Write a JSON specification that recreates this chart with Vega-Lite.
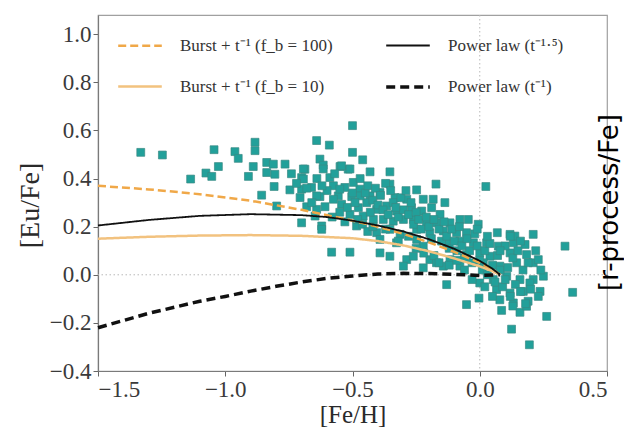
{
  "$schema": "https://vega.github.io/schema/vega-lite/v6.json",
  "width": 509,
  "height": 356,
  "autosize": {"type": "none"},
  "padding": {"left": 98, "top": 15, "right": 17, "bottom": 63},
  "background": "#ffffff",
  "config": {
    "view": {"stroke": "#a0a0a0", "strokeWidth": 1.2},
    "font": "Liberation Serif",
    "axis": {
      "labelFont": "Liberation Serif",
      "labelFontSize": 23,
      "labelColor": "#3a3a3a",
      "titleFont": "Liberation Serif",
      "titleFontSize": 25,
      "titleFontWeight": "normal",
      "titleColor": "#2a2a2a",
      "tickColor": "#666666",
      "tickSize": 5,
      "domainColor": "#7a7a7a",
      "domainWidth": 1.2,
      "grid": false,
      "labelPadding": 2
    },
    "legend": {
      "orient": "none",
      "legendX": 18,
      "legendY": 7,
      "columns": 2,
      "columnPadding": 46,
      "rowPadding": 9,
      "symbolType": "stroke",
      "symbolSize": 1900,
      "symbolStrokeWidth": 2.5,
      "labelFont": "Liberation Serif",
      "labelFontSize": 17,
      "labelColor": "#333333",
      "labelOffset": 16,
      "labelLimit": 400,
      "titlePadding": 0
    }
  },
  "datasets": {
    "stars": [
      {"feh": -0.50, "eufe": 0.62}, {"feh": -0.641, "eufe": 0.558}, {"feh": -0.591, "eufe": 0.539}, {"feh": -0.50, "eufe": 0.509},
      {"feh": -0.46, "eufe": 0.478}, {"feh": -0.765, "eufe": 0.46}, {"feh": -0.628, "eufe": 0.481}, {"feh": -0.615, "eufe": 0.456},
      {"feh": -0.687, "eufe": 0.439}, {"feh": -0.549, "eufe": 0.45}, {"feh": -0.517, "eufe": 0.439}, {"feh": -0.431, "eufe": 0.428},
      {"feh": -0.353, "eufe": 0.428}, {"feh": -0.70, "eufe": 0.404}, {"feh": -0.589, "eufe": 0.404}, {"feh": -0.172, "eufe": 0.377},
      {"feh": 0.024, "eufe": 0.367}, {"feh": -0.746, "eufe": 0.353}, {"feh": -0.661, "eufe": 0.363}, {"feh": -0.575, "eufe": 0.37},
      {"feh": -0.53, "eufe": 0.363}, {"feh": -0.471, "eufe": 0.356}, {"feh": -0.353, "eufe": 0.377}, {"feh": -0.248, "eufe": 0.353},
      {"feh": -0.706, "eufe": 0.321}, {"feh": -0.628, "eufe": 0.325}, {"feh": -0.556, "eufe": 0.328}, {"feh": -0.503, "eufe": 0.325},
      {"feh": -0.431, "eufe": 0.328}, {"feh": -0.392, "eufe": 0.342}, {"feh": -0.333, "eufe": 0.321}, {"feh": -0.287, "eufe": 0.314},
      {"feh": -0.222, "eufe": 0.314}, {"feh": -0.183, "eufe": 0.314}, {"feh": -0.137, "eufe": 0.30}, {"feh": -0.68, "eufe": 0.283},
      {"feh": -0.608, "eufe": 0.283}, {"feh": -0.543, "eufe": 0.293}, {"feh": -0.477, "eufe": 0.279}, {"feh": -0.444, "eufe": 0.30},
      {"feh": -0.405, "eufe": 0.272}, {"feh": -0.366, "eufe": 0.286}, {"feh": -0.327, "eufe": 0.265}, {"feh": -0.268, "eufe": 0.279},
      {"feh": -0.228, "eufe": 0.265}, {"feh": -0.189, "eufe": 0.279}, {"feh": -0.156, "eufe": 0.251}, {"feh": -0.647, "eufe": 0.244},
      {"feh": -0.51, "eufe": 0.251}, {"feh": -0.458, "eufe": 0.244}, {"feh": -0.418, "eufe": 0.23}, {"feh": -0.379, "eufe": 0.23},
      {"feh": -0.34, "eufe": 0.223}, {"feh": -0.30, "eufe": 0.23}, {"feh": -0.261, "eufe": 0.23}, {"feh": -0.209, "eufe": 0.216},
      {"feh": -0.17, "eufe": 0.216}, {"feh": -0.117, "eufe": 0.216}, {"feh": -0.078, "eufe": 0.23}, {"feh": -0.045, "eufe": 0.23},
      {"feh": -0.006, "eufe": 0.21}, {"feh": -0.70, "eufe": 0.216}, {"feh": -0.621, "eufe": 0.203}, {"feh": -0.621, "eufe": 0.189},
      {"feh": -0.484, "eufe": 0.203}, {"feh": -0.405, "eufe": 0.175}, {"feh": -0.353, "eufe": 0.189}, {"feh": -0.313, "eufe": 0.168},
      {"feh": -0.248, "eufe": 0.189}, {"feh": -0.196, "eufe": 0.175}, {"feh": -0.143, "eufe": 0.182}, {"feh": -0.091, "eufe": 0.175},
      {"feh": -0.052, "eufe": 0.175}, {"feh": 0.069, "eufe": 0.175}, {"feh": 0.119, "eufe": 0.168}, {"feh": 0.21, "eufe": 0.168},
      {"feh": -0.392, "eufe": 0.147}, {"feh": -0.327, "eufe": 0.133}, {"feh": -0.248, "eufe": 0.147}, {"feh": -0.222, "eufe": 0.119},
      {"feh": -0.13, "eufe": 0.133}, {"feh": -0.078, "eufe": 0.14}, {"feh": -0.025, "eufe": 0.133}, {"feh": 0.027, "eufe": 0.133},
      {"feh": 0.073, "eufe": 0.119}, {"feh": 0.132, "eufe": 0.133}, {"feh": 0.178, "eufe": 0.126}, {"feh": -0.582, "eufe": 0.094},
      {"feh": -0.51, "eufe": 0.094}, {"feh": -0.392, "eufe": 0.091}, {"feh": -0.353, "eufe": 0.077}, {"feh": -0.287, "eufe": 0.063},
      {"feh": -0.261, "eufe": 0.077}, {"feh": -0.196, "eufe": 0.063}, {"feh": -0.17, "eufe": 0.05}, {"feh": -0.117, "eufe": 0.063},
      {"feh": -0.052, "eufe": 0.084}, {"feh": 0.0, "eufe": 0.091}, {"feh": 0.04, "eufe": 0.077}, {"feh": 0.119, "eufe": 0.091},
      {"feh": 0.184, "eufe": 0.084}, {"feh": -0.30, "eufe": 0.036}, {"feh": -0.222, "eufe": 0.029}, {"feh": -0.143, "eufe": 0.036},
      {"feh": -0.078, "eufe": 0.036}, {"feh": 0.014, "eufe": 0.05}, {"feh": 0.079, "eufe": 0.036}, {"feh": 0.145, "eufe": 0.05},
      {"feh": 0.21, "eufe": 0.05}, {"feh": -0.13, "eufe": -0.041}, {"feh": 0.0, "eufe": -0.034}, {"feh": 0.053, "eufe": -0.02},
      {"feh": 0.106, "eufe": -0.006}, {"feh": 0.158, "eufe": -0.02}, {"feh": 0.21, "eufe": -0.02}, {"feh": 0.066, "eufe": -0.062},
      {"feh": 0.119, "eufe": -0.076}, {"feh": 0.171, "eufe": -0.069}, {"feh": 0.079, "eufe": -0.104}, {"feh": 0.132, "eufe": -0.117},
      {"feh": 0.19, "eufe": -0.11}, {"feh": -0.052, "eufe": -0.124}, {"feh": -0.003, "eufe": -0.097}, {"feh": 0.086, "eufe": -0.148},
      {"feh": 0.158, "eufe": -0.156}, {"feh": 0.125, "eufe": -0.226}, {"feh": 0.195, "eufe": -0.291},
      {"feh": -1.332, "eufe": 0.509}, {"feh": -1.247, "eufe": 0.498}, {"feh": -1.044, "eufe": 0.52}, {"feh": -0.962, "eufe": 0.512},
      {"feh": -0.949, "eufe": 0.484}, {"feh": -0.883, "eufe": 0.551}, {"feh": -0.883, "eufe": 0.516}, {"feh": -1.027, "eufe": 0.45},
      {"feh": -1.076, "eufe": 0.423}, {"feh": -1.053, "eufe": 0.409}, {"feh": -1.136, "eufe": 0.398}, {"feh": -0.909, "eufe": 0.409},
      {"feh": -0.89, "eufe": 0.45}, {"feh": -0.837, "eufe": 0.467}, {"feh": -0.811, "eufe": 0.46}, {"feh": -0.837, "eufe": 0.425},
      {"feh": -0.805, "eufe": 0.418}, {"feh": -0.808, "eufe": 0.367}, {"feh": -0.857, "eufe": 0.331}, {"feh": -0.798, "eufe": 0.286},
      {"feh": -0.693, "eufe": 0.44}, {"feh": -0.693, "eufe": 0.398}, {"feh": -0.70, "eufe": 0.356}, {"feh": -0.615, "eufe": 0.44},
      {"feh": -0.543, "eufe": 0.453}, {"feh": -0.51, "eufe": 0.44}, {"feh": -0.641, "eufe": 0.328}, {"feh": -0.641, "eufe": 0.272},
      {"feh": -0.575, "eufe": 0.314}, {"feh": -0.55, "eufe": 0.356}, {"feh": -0.497, "eufe": 0.384}, {"feh": -0.47, "eufe": 0.328},
      {"feh": 0.335, "eufe": 0.119}, {"feh": 0.365, "eufe": -0.073}, {"feh": 0.263, "eufe": -0.173}, {"feh": 0.197, "eufe": -0.034},
      {"feh": 0.23, "eufe": 0.063}, {"feh": 0.25, "eufe": -0.006}, {"feh": 0.237, "eufe": -0.069}, {"feh": 0.138, "eufe": 0.161},
      {"feh": 0.184, "eufe": -0.131},
      {"feh": -0.42, "eufe": 0.31}, {"feh": -0.40, "eufe": 0.29}, {"feh": -0.38, "eufe": 0.27}, {"feh": -0.36, "eufe": 0.25},
      {"feh": -0.34, "eufe": 0.30}, {"feh": -0.32, "eufe": 0.24}, {"feh": -0.30, "eufe": 0.27}, {"feh": -0.28, "eufe": 0.25},
      {"feh": -0.26, "eufe": 0.21}, {"feh": -0.25, "eufe": 0.26}, {"feh": -0.24, "eufe": 0.23}, {"feh": -0.23, "eufe": 0.19},
      {"feh": -0.21, "eufe": 0.24}, {"feh": -0.20, "eufe": 0.20}, {"feh": -0.19, "eufe": 0.15}, {"feh": -0.18, "eufe": 0.23},
      {"feh": -0.16, "eufe": 0.19}, {"feh": -0.15, "eufe": 0.14}, {"feh": -0.14, "eufe": 0.22}, {"feh": -0.13, "eufe": 0.16},
      {"feh": -0.12, "eufe": 0.11}, {"feh": -0.11, "eufe": 0.19}, {"feh": -0.10, "eufe": 0.14}, {"feh": -0.09, "eufe": 0.10},
      {"feh": -0.08, "eufe": 0.20}, {"feh": -0.07, "eufe": 0.12}, {"feh": -0.06, "eufe": 0.07}, {"feh": -0.05, "eufe": 0.15},
      {"feh": -0.04, "eufe": 0.10}, {"feh": -0.03, "eufe": 0.05}, {"feh": -0.02, "eufe": 0.17}, {"feh": -0.01, "eufe": 0.12},
      {"feh": 0.0, "eufe": 0.06}, {"feh": 0.01, "eufe": 0.02}, {"feh": 0.02, "eufe": 0.10}, {"feh": 0.03, "eufe": 0.0},
      {"feh": 0.04, "eufe": 0.13}, {"feh": 0.05, "eufe": 0.04}, {"feh": 0.06, "eufe": -0.03}, {"feh": 0.07, "eufe": 0.08},
      {"feh": 0.08, "eufe": 0.02}, {"feh": 0.09, "eufe": -0.05}, {"feh": 0.10, "eufe": 0.12}, {"feh": 0.11, "eufe": 0.03},
      {"feh": 0.12, "eufe": -0.09}, {"feh": 0.13, "eufe": 0.07}, {"feh": 0.14, "eufe": -0.04}, {"feh": 0.15, "eufe": 0.10},
      {"feh": 0.16, "eufe": -0.07}, {"feh": 0.17, "eufe": 0.02}, {"feh": 0.18, "eufe": -0.12}, {"feh": 0.19, "eufe": 0.05},
      {"feh": 0.20, "eufe": -0.06}, {"feh": 0.22, "eufe": 0.10}, {"feh": 0.23, "eufe": -0.09}, {"feh": 0.24, "eufe": 0.02},
      {"feh": -0.47, "eufe": 0.40}, {"feh": -0.45, "eufe": 0.34}, {"feh": -0.44, "eufe": 0.37}, {"feh": -0.43, "eufe": 0.26},
      {"feh": -0.41, "eufe": 0.36}, {"feh": -0.39, "eufe": 0.33}, {"feh": -0.37, "eufe": 0.38}, {"feh": -0.35, "eufe": 0.35},
      {"feh": -0.33, "eufe": 0.28}, {"feh": -0.31, "eufe": 0.32}, {"feh": -0.29, "eufe": 0.35}, {"feh": -0.27, "eufe": 0.30},
      {"feh": -0.55, "eufe": 0.26}, {"feh": -0.53, "eufe": 0.22}, {"feh": -0.52, "eufe": 0.28}, {"feh": -0.60, "eufe": 0.35},
      {"feh": -0.58, "eufe": 0.24}, {"feh": -0.57, "eufe": 0.42}, {"feh": -0.66, "eufe": 0.30}, {"feh": -0.64, "eufe": 0.40},
      {"feh": -0.62, "eufe": 0.37}, {"feh": -0.72, "eufe": 0.38}, {"feh": -0.74, "eufe": 0.42}, {"feh": -0.68, "eufe": 0.36},
      {"feh": -0.50, "eufe": 0.34}, {"feh": -0.49, "eufe": 0.30}, {"feh": -0.48, "eufe": 0.23}, {"feh": -0.46, "eufe": 0.21},
      {"feh": -0.44, "eufe": 0.18}, {"feh": -0.42, "eufe": 0.20}, {"feh": -0.37, "eufe": 0.19}, {"feh": -0.32, "eufe": 0.14},
      {"feh": -0.28, "eufe": 0.16}, {"feh": -0.25, "eufe": 0.11}, {"feh": -0.22, "eufe": 0.09}, {"feh": -0.18, "eufe": 0.08},
      {"feh": -0.16, "eufe": 0.05}, {"feh": -0.12, "eufe": 0.04}, {"feh": -0.09, "eufe": 0.06}, {"feh": -0.06, "eufe": 0.02},
      {"feh": -0.03, "eufe": -0.02}, {"feh": 0.02, "eufe": -0.05}, {"feh": 0.05, "eufe": -0.09}, {"feh": 0.10, "eufe": -0.02},
      {"feh": 0.13, "eufe": -0.13}, {"feh": 0.16, "eufe": 0.14}, {"feh": 0.03, "eufe": 0.16}, {"feh": -0.01, "eufe": 0.19},
      {"feh": 0.08, "eufe": 0.10}, {"feh": 0.12, "eufe": 0.16}
    ],
    "curves": [
      {"s": "Burst + t⁻¹ (f_b = 100)", "x": -1.5, "y": 0.37},
      {"s": "Burst + t⁻¹ (f_b = 100)", "x": -1.3, "y": 0.355},
      {"s": "Burst + t⁻¹ (f_b = 100)", "x": -1.1, "y": 0.335},
      {"s": "Burst + t⁻¹ (f_b = 100)", "x": -0.9, "y": 0.308},
      {"s": "Burst + t⁻¹ (f_b = 100)", "x": -0.7, "y": 0.27},
      {"s": "Burst + t⁻¹ (f_b = 100)", "x": -0.5, "y": 0.225},
      {"s": "Burst + t⁻¹ (f_b = 100)", "x": -0.4, "y": 0.2},
      {"s": "Burst + t⁻¹ (f_b = 100)", "x": -0.3, "y": 0.17},
      {"s": "Burst + t⁻¹ (f_b = 100)", "x": -0.2, "y": 0.135},
      {"s": "Burst + t⁻¹ (f_b = 100)", "x": -0.1, "y": 0.095},
      {"s": "Burst + t⁻¹ (f_b = 100)", "x": 0.0, "y": 0.05},
      {"s": "Burst + t⁻¹ (f_b = 100)", "x": 0.05, "y": 0.022},
      {"s": "Burst + t⁻¹ (f_b = 100)", "x": 0.08, "y": 0.0},
      {"s": "Burst + t⁻¹ (f_b = 10)", "x": -1.5, "y": 0.15},
      {"s": "Burst + t⁻¹ (f_b = 10)", "x": -1.3, "y": 0.158},
      {"s": "Burst + t⁻¹ (f_b = 10)", "x": -1.1, "y": 0.163},
      {"s": "Burst + t⁻¹ (f_b = 10)", "x": -0.9, "y": 0.165},
      {"s": "Burst + t⁻¹ (f_b = 10)", "x": -0.7, "y": 0.162},
      {"s": "Burst + t⁻¹ (f_b = 10)", "x": -0.5, "y": 0.152},
      {"s": "Burst + t⁻¹ (f_b = 10)", "x": -0.4, "y": 0.14},
      {"s": "Burst + t⁻¹ (f_b = 10)", "x": -0.3, "y": 0.122},
      {"s": "Burst + t⁻¹ (f_b = 10)", "x": -0.2, "y": 0.098},
      {"s": "Burst + t⁻¹ (f_b = 10)", "x": -0.1, "y": 0.068},
      {"s": "Burst + t⁻¹ (f_b = 10)", "x": 0.0, "y": 0.035},
      {"s": "Burst + t⁻¹ (f_b = 10)", "x": 0.05, "y": 0.015},
      {"s": "Burst + t⁻¹ (f_b = 10)", "x": 0.08, "y": 0.0},
      {"s": "Power law (t⁻¹·⁵)", "x": -1.5, "y": 0.205},
      {"s": "Power law (t⁻¹·⁵)", "x": -1.3, "y": 0.228},
      {"s": "Power law (t⁻¹·⁵)", "x": -1.1, "y": 0.245},
      {"s": "Power law (t⁻¹·⁵)", "x": -0.9, "y": 0.252},
      {"s": "Power law (t⁻¹·⁵)", "x": -0.7, "y": 0.248},
      {"s": "Power law (t⁻¹·⁵)", "x": -0.6, "y": 0.24},
      {"s": "Power law (t⁻¹·⁵)", "x": -0.5, "y": 0.225},
      {"s": "Power law (t⁻¹·⁵)", "x": -0.4, "y": 0.205},
      {"s": "Power law (t⁻¹·⁵)", "x": -0.3, "y": 0.18},
      {"s": "Power law (t⁻¹·⁵)", "x": -0.2, "y": 0.148},
      {"s": "Power law (t⁻¹·⁵)", "x": -0.1, "y": 0.108},
      {"s": "Power law (t⁻¹·⁵)", "x": 0.0, "y": 0.058},
      {"s": "Power law (t⁻¹·⁵)", "x": 0.05, "y": 0.025},
      {"s": "Power law (t⁻¹·⁵)", "x": 0.08, "y": 0.0},
      {"s": "Power law (t⁻¹)", "x": -1.5, "y": -0.22},
      {"s": "Power law (t⁻¹)", "x": -1.4, "y": -0.19},
      {"s": "Power law (t⁻¹)", "x": -1.3, "y": -0.16},
      {"s": "Power law (t⁻¹)", "x": -1.2, "y": -0.135},
      {"s": "Power law (t⁻¹)", "x": -1.1, "y": -0.11},
      {"s": "Power law (t⁻¹)", "x": -1.0, "y": -0.09},
      {"s": "Power law (t⁻¹)", "x": -0.9, "y": -0.068},
      {"s": "Power law (t⁻¹)", "x": -0.8, "y": -0.048},
      {"s": "Power law (t⁻¹)", "x": -0.7, "y": -0.03},
      {"s": "Power law (t⁻¹)", "x": -0.6, "y": -0.015},
      {"s": "Power law (t⁻¹)", "x": -0.5, "y": -0.005},
      {"s": "Power law (t⁻¹)", "x": -0.4, "y": 0.003},
      {"s": "Power law (t⁻¹)", "x": -0.3, "y": 0.006},
      {"s": "Power law (t⁻¹)", "x": -0.2, "y": 0.005},
      {"s": "Power law (t⁻¹)", "x": -0.1, "y": 0.002},
      {"s": "Power law (t⁻¹)", "x": 0.0, "y": -0.003},
      {"s": "Power law (t⁻¹)", "x": 0.08, "y": 0.0}
    ],
    "zero": [{"v": 0}]
  },
  "layer": [
    {
      "data": {"name": "zero"},
      "mark": {"type": "rule", "color": "#b8b8b8", "strokeWidth": 1, "strokeDash": [1.5, 2.5]},
      "encoding": {
        "x": {"field": "v", "type": "quantitative"}
      }
    },
    {
      "data": {"name": "zero"},
      "mark": {"type": "rule", "color": "#b8b8b8", "strokeWidth": 1, "strokeDash": [1.5, 2.5]},
      "encoding": {
        "y": {
          "field": "v", "type": "quantitative",
          "axis": {
            "orient": "right", "title": "[r-process/Fe]", "labels": false, "ticks": false, "domain": false,
            "titleFont": "DejaVu Sans", "titleFontSize": 26, "titleColor": "#000000",
            "titleAngle": 270, "titleAlign": "center", "titleBaseline": "middle",
            "titleX": 2, "titleY": 187
          }
        }
      }
    },
    {
      "data": {"name": "stars"},
      "mark": {"type": "square", "size": 62, "filled": true, "color": "#22a09a", "stroke": "#3a8a84", "strokeWidth": 0.7, "opacity": 1},
      "encoding": {
        "x": {
          "field": "feh", "type": "quantitative", "title": "[Fe/H]",
          "scale": {"domain": [-1.5, 0.5], "nice": false, "zero": false},
          "axis": {"values": [-1.5, -1.0, -0.5, 0.0, 0.5], "format": ".1f", "titlePadding": 1}
        },
        "y": {
          "field": "eufe", "type": "quantitative", "title": "[Eu/Fe]",
          "scale": {"domain": [-0.4, 1.08], "nice": false, "zero": false},
          "axis": {"values": [-0.4, -0.2, 0.0, 0.2, 0.4, 0.6, 0.8, 1.0], "format": ".1f", "titlePadding": 5, "titleY": 190, "titleFontSize": 28}
        }
      }
    },
    {
      "data": {"name": "curves"},
      "mark": {"type": "line"},
      "encoding": {
        "x": {"field": "x", "type": "quantitative"},
        "y": {"field": "y", "type": "quantitative", "axis": null},
        "color": {
          "field": "s", "type": "nominal",
          "scale": {
            "domain": ["Burst + t⁻¹ (f_b = 100)", "Burst + t⁻¹ (f_b = 10)", "Power law (t⁻¹·⁵)", "Power law (t⁻¹)"],
            "range": ["#f0a848", "#f2c27f", "#111111", "#111111"]
          },
          "legend": {"title": null}
        },
        "strokeDash": {
          "field": "s", "type": "nominal",
          "scale": {
            "domain": ["Burst + t⁻¹ (f_b = 100)", "Burst + t⁻¹ (f_b = 10)", "Power law (t⁻¹·⁵)", "Power law (t⁻¹)"],
            "range": [[8, 4], [1, 0], [1, 0], [9, 5]]
          },
          "legend": {"title": null}
        },
        "strokeWidth": {
          "field": "s", "type": "nominal",
          "scale": {
            "type": "ordinal",
            "domain": ["Burst + t⁻¹ (f_b = 100)", "Burst + t⁻¹ (f_b = 10)", "Power law (t⁻¹·⁵)", "Power law (t⁻¹)"],
            "range": [2.5, 2.5, 1.8, 3.5]
          },
          "legend": {"title": null}
        }
      }
    }
  ],
  "resolve": {"axis": {"y": "independent"}}
}
